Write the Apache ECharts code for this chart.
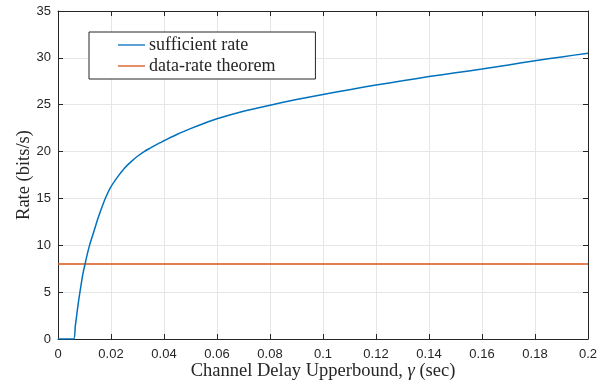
<!DOCTYPE html>
<html>
<head>
<meta charset="utf-8">
<script src="https://cdn.jsdelivr.net/npm/echarts@6/dist/echarts.min.js"></script>
<style>html,body{margin:0;padding:0;background:#fff;}#c{width:614px;height:383px;}</style>
</head>
<body>
<div id="c"></div>
<script>
// Data
const gamma = [0, 0.0059, 0.0065, 0.007, 0.0075, 0.008, 0.0085, 0.009, 0.0095, 0.0103, 0.011, 0.012, 0.013, 0.014, 0.015, 0.0165, 0.018, 0.02, 0.0225, 0.025, 0.0275, 0.03, 0.0325, 0.035, 0.0375, 0.04, 0.045, 0.05, 0.055, 0.06, 0.07, 0.08, 0.09, 0.1, 0.11, 0.12, 0.13, 0.14, 0.15, 0.16, 0.17, 0.18, 0.19, 0.2];
const sufficientRate = [0, 0, 1.3, 2.4, 3.5, 4.5, 5.4, 6.3, 7.1, 8.1, 9.0, 10.1, 11.0, 11.9, 12.8, 14.0, 15.1, 16.25, 17.3, 18.2, 18.9, 19.5, 20.0, 20.4, 20.8, 21.15, 21.85, 22.45, 23.0, 23.5, 24.3, 24.95, 25.55, 26.1, 26.6, 27.1, 27.55, 28.0, 28.4, 28.8, 29.25, 29.7, 30.1, 30.5];
const theoremX = [0, 0.2];
const theoremRate = [8, 8];
const seriesNames = ['sufficient rate', 'data-rate theorem'];
const xTitle = 'Channel Delay Upperbound, ';
const yTitle = 'Rate (bits/s)';

const axisColor = '#262626';
const tickFont = {color: axisColor, fontFamily: 'Liberation Sans', fontSize: 13};
const serif = 'Liberation Serif';

const chart = echarts.init(document.getElementById('c'), null, {renderer: 'canvas'});
chart.setOption({
  animation: false,
  backgroundColor: '#fff',
  grid: {left: 58, right: 26, top: 11, bottom: 44, containLabel: false, outerBoundsMode: 'none'},
  legend: {
    orient: 'vertical', left: 89, top: 32,
    backgroundColor: '#fff', borderColor: axisColor, borderWidth: 1,
    padding: [4, 40, 4, 29], itemGap: 3, itemWidth: 27, itemHeight: 14,
    textStyle: {fontFamily: serif, fontSize: 18, lineHeight: 18, color: axisColor, padding: [0, 0, 0, -1]},
    data: [
      {name: seriesNames[0], icon: 'path://M0,0 L27,0 L27,1.3 L0,1.3 Z', itemStyle: {color: '#0072BD'}},
      {name: seriesNames[1], icon: 'path://M0,0 L27,0 L27,1.3 L0,1.3 Z', itemStyle: {color: '#D95319'}}
    ]
  },
  xAxis: [{
    type: 'value', min: 0, max: 0.2, interval: 0.02,
    name: '{t|' + xTitle + '}{i|γ}{t| (sec)}', nameLocation: 'middle', nameGap: 23, nameMoveOverlap: false,
    nameTextStyle: {rich: {t: {fontFamily: serif, fontSize: 18.5, color: axisColor}, i: {fontFamily: serif, fontSize: 18.5, fontStyle: 'italic', color: axisColor}}},
    axisLine: {show: true, onZero: false, lineStyle: {color: axisColor, width: 1}},
    axisTick: {show: true, inside: true, length: 5, lineStyle: {color: axisColor}},
    axisLabel: Object.assign({margin: 9, formatter: v => String(+v.toFixed(2))}, tickFont),
    splitLine: {show: true, lineStyle: {color: '#e6e6e6', width: 1}}
  }, {
    type: 'value', min: 0, max: 0.2, interval: 0.02, position: 'top',
    axisLine: {show: true, onZero: false, lineStyle: {color: axisColor, width: 1}},
    axisTick: {show: true, inside: true, length: 5, lineStyle: {color: axisColor}},
    axisLabel: {show: false}, splitLine: {show: false}
  }],
  yAxis: [{
    type: 'value', min: 0, max: 35, interval: 5,
    name: yTitle, nameLocation: 'middle', nameGap: 24, nameMoveOverlap: false,
    nameTextStyle: {fontFamily: serif, fontSize: 18.5, color: axisColor},
    axisLine: {show: true, onZero: false, lineStyle: {color: axisColor, width: 1}},
    axisTick: {show: true, inside: true, length: 5, lineStyle: {color: axisColor}},
    axisLabel: Object.assign({margin: 7}, tickFont),
    splitLine: {show: true, lineStyle: {color: '#e6e6e6', width: 1}}
  }, {
    type: 'value', min: 0, max: 35, interval: 5, position: 'right',
    axisLine: {show: true, onZero: false, lineStyle: {color: axisColor, width: 1}},
    axisTick: {show: true, inside: true, length: 5, lineStyle: {color: axisColor}},
    axisLabel: {show: false}, splitLine: {show: false}
  }],
  series: [{
    name: seriesNames[0], type: 'line', showSymbol: false, smooth: 0.2,
    data: gamma.map((g, i) => [g, sufficientRate[i]]),
    lineStyle: {color: '#0072BD', width: 1.5}, itemStyle: {color: '#0072BD'}, z: 3
  }, {
    name: seriesNames[1], type: 'line', showSymbol: false,
    data: theoremX.map((g, i) => [g, theoremRate[i]]),
    lineStyle: {color: '#D95319', width: 1.5}, itemStyle: {color: '#D95319'}, z: 2
  }]
});
</script>
</body>
</html>
